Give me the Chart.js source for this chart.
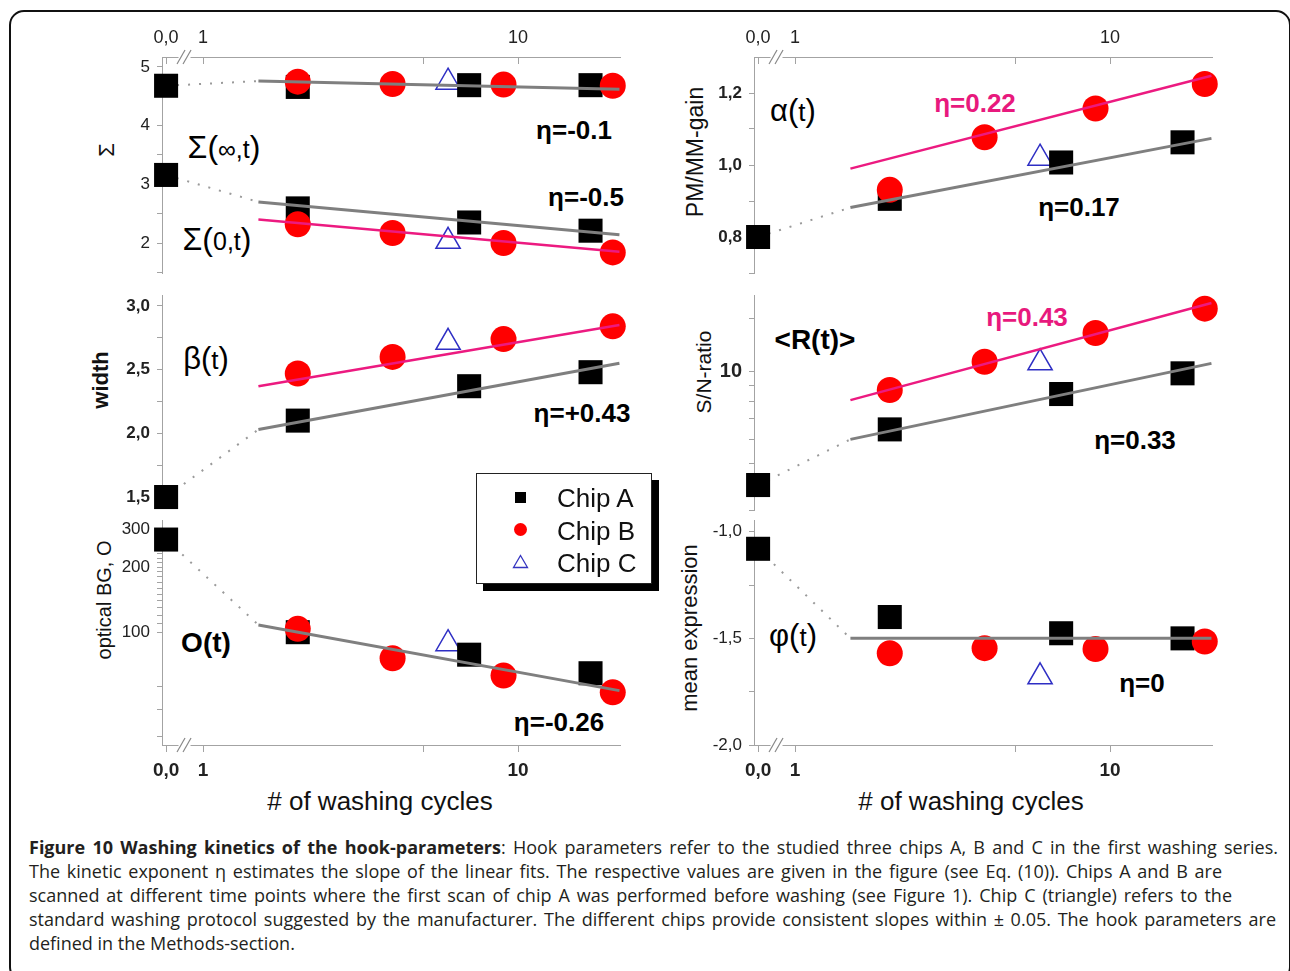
<!DOCTYPE html>
<html><head><meta charset="utf-8">
<script src="https://cdn.jsdelivr.net/npm/chart.js@4.4.1/dist/chart.umd.min.js"></script>
<style>
html,body{margin:0;padding:0;background:#fff;}
body{width:1290px;height:971px;overflow:hidden;position:relative;font-family:'Liberation Sans',Arial,sans-serif;}
.frame{position:absolute;left:9px;top:10px;width:1278px;height:968px;border:2px solid #111;border-radius:15px;}
canvas.p{position:absolute;}
.lab{position:absolute;transform:translate(-50%,-50%);white-space:nowrap;color:#000;line-height:1;}
.yt{position:absolute;transform:translate(-50%,-50%) rotate(-90deg);white-space:nowrap;color:#111;line-height:1;}
.xt{position:absolute;transform:translate(-50%,-50%);white-space:nowrap;color:#111;font-size:26px;line-height:1;}
#legend{position:absolute;left:476px;top:473px;width:174px;height:109px;border:1px solid #222;background:#fff;box-shadow:7px 7px 0 #000;}
#legend .it{position:absolute;left:80px;font-size:26px;color:#111;line-height:1;transform:translateY(-50%);}
.cap{position:absolute;left:29px;font-family:'Open Sans','Noto Sans',sans-serif;font-size:18px;color:#231f20;line-height:24px;}
.cap span{white-space:nowrap;}
</style></head>
<body>
<div class="frame"></div>

<!-- y-axis titles -->
<div class="yt" style="left:107px;top:150px;font-size:22px;">Σ</div>
<div class="yt" style="left:101px;top:380px;font-size:22px;font-weight:bold;">width</div>
<div class="yt" style="left:104px;top:600px;font-size:20px;">optical BG, O</div>
<div class="yt" style="left:695px;top:152px;font-size:23px;">PM/MM-gain</div>
<div class="yt" style="left:703px;top:372px;font-size:21px;">S/N-ratio</div>
<div class="yt" style="left:690px;top:628px;font-size:22px;">mean expression</div>
<!-- x-axis titles -->
<div class="xt" style="left:380px;top:801px;"># of washing cycles</div>
<div class="xt" style="left:971px;top:801px;"># of washing cycles</div>

<!-- in-plot annotations -->
<div class="lab" style="left:224px;top:147px;font-size:25px;"><span style="font-size:32px">Σ(</span>∞,t<span style="font-size:32px">)</span></div>
<div class="lab" style="left:217px;top:239px;font-size:25px;"><span style="font-size:32px">Σ(</span>0,t<span style="font-size:32px">)</span></div>
<div class="lab" style="left:206px;top:358px;font-size:26px;"><span style="font-size:31px">β(</span>t<span style="font-size:31px">)</span></div>
<div class="lab" style="left:206px;top:643px;font-size:28px;font-weight:bold;">O(t)</div>
<div class="lab" style="left:793px;top:110px;font-size:26px;"><span style="font-size:31px">α(</span>t<span style="font-size:31px">)</span></div>
<div class="lab" style="left:815px;top:340px;font-size:28px;font-weight:bold;">&lt;R(t)&gt;</div>
<div class="lab" style="left:793px;top:635px;font-size:26px;"><span style="font-size:31px">φ(</span>t<span style="font-size:31px">)</span></div>
<div class="lab" style="left:574px;top:130px;font-size:26px;font-weight:bold;">η=-0.1</div>
<div class="lab" style="left:586px;top:197px;font-size:26px;font-weight:bold;">η=-0.5</div>
<div class="lab" style="left:582px;top:413px;font-size:26px;font-weight:bold;">η=+0.43</div>
<div class="lab" style="left:559px;top:722px;font-size:26px;font-weight:bold;">η=-0.26</div>
<div class="lab" style="left:975px;top:103px;font-size:26px;font-weight:bold;color:#e8197d;">η=0.22</div>
<div class="lab" style="left:1079px;top:207px;font-size:26px;font-weight:bold;">η=0.17</div>
<div class="lab" style="left:1027px;top:317px;font-size:26px;font-weight:bold;color:#e8197d;">η=0.43</div>
<div class="lab" style="left:1135px;top:440px;font-size:26px;font-weight:bold;">η=0.33</div>
<div class="lab" style="left:1142px;top:683px;font-size:26px;font-weight:bold;">η=0</div>

<div id="legend">
  <div style="position:absolute;left:38px;top:18px;width:11px;height:11px;background:#000;"></div>
  <div style="position:absolute;left:37px;top:49px;width:13px;height:13px;border-radius:50%;background:#f00;"></div>
  <svg style="position:absolute;left:35px;top:80px;" width="17" height="15"><polygon points="8.5,1.5 15.5,13.5 1.5,13.5" fill="none" stroke="#3535c0" stroke-width="1.3"/></svg>
  <div class="it" style="top:24px;">Chip A</div>
  <div class="it" style="top:57px;">Chip B</div>
  <div class="it" style="top:89px;">Chip C</div>
</div>

<div class="cap" style="top:835px;"><span class="ln" data-w="1249"><b>Figure 10 Washing kinetics of the hook-parameters</b>: Hook parameters refer to the studied three chips A, B and C in the first washing series.</span></div>
<div class="cap" style="top:859px;"><span class="ln" data-w="1193">The kinetic exponent η estimates the slope of the linear fits. The respective values are given in the figure (see Eq. (10)). Chips A and B are</span></div>
<div class="cap" style="top:883px;"><span class="ln" data-w="1203">scanned at different time points where the first scan of chip A was performed before washing (see Figure 1). Chip C (triangle) refers to the</span></div>
<div class="cap" style="top:907px;"><span class="ln" data-w="1247">standard washing protocol suggested by the manufacturer. The different chips provide consistent slopes within ± 0.05. The hook parameters are</span></div>
<div class="cap" style="top:931px;"><span class="ln" data-w="271">defined in the Methods-section.</span></div>

<script>
// ---------- data: washing cycles ----------
const chipA_x = [0, 2, 7, 17];   // 0 = scan before washing
const chipB_x = [2, 4, 9, 20];
const chipC_x = [6];
const fitX = [1.5, 21];          // range of the linear fits

// x tick labels (broken log axis)
const xTickVals = [0, 1, 5, 10];
const xTickLabels = ['0,0', '1', '', '10'];

// Σ(∞,t)
const sigInf_A = [4.68, 4.66, 4.69, 4.69];
const sigInf_B = [4.75, 4.71, 4.70, 4.68];
const sigInf_C = [4.74];
const sigInf_fitA = [4.76, 4.62];
// Σ(0,t)
const sig0_A = [3.16, 2.59, 2.35, 2.21];
const sig0_B = [2.32, 2.17, 2.00, 1.84];
const sig0_C = [2.03];
const sig0_fitA = [2.70, 2.14];
const sig0_fitB = [2.40, 1.85];
const sig_ticks = [1.5, 2, 2.5, 3, 3.5, 4, 4.5, 5];
const sig_labels = ['', '2', '', '3', '', '4', '', '5'];

// β(t) width
const beta_A = [1.50, 2.10, 2.37, 2.48];
const beta_B = [2.47, 2.60, 2.74, 2.84];
const beta_C = [2.715];
const beta_fitA = [2.03, 2.55];
const beta_fitB = [2.37, 2.85];
const beta_ticks = [1.5, 1.75, 2.0, 2.25, 2.5, 2.75, 3.0];
const beta_labels = ['1,5', '', '2,0', '', '2,5', '', '3,0'];

// O(t) optical background (log)
const O_A = [268, 100, 78.7, 64.6];
const O_B = [103.6, 75.8, 63, 52.7];
const O_C = [88.5];
const O_fitA = [108, 53.7];
const O_ticks = [33, 44, 56, 100, 110, 120, 130, 140, 150, 160, 170, 180, 190, 200, 210, 220, 230, 240, 250, 260, 270, 280, 290, 300];
const O_labels = ['', '', '', '100', '', '', '', '', '', '', '', '', '', '200', '', '', '', '', '', '', '', '', '', '300'];

// α(t) PM/MM gain
const alpha_A = [0.80, 0.906, 1.007, 1.063];
const alpha_B = [0.931, 1.077, 1.157, 1.225];
const alpha_C = [1.019];
const alpha_fitA = [0.882, 1.074];
const alpha_fitB = [0.99, 1.248];
const alpha_ticks = [0.7, 0.8, 0.9, 1.0, 1.1, 1.2];
const alpha_labels = ['', '0,8', '', '1,0', '', '1,2'];

// <R(t)> S/N ratio (log)
const R_A = [4.25, 6.47, 8.45, 9.88];
const R_B = [8.71, 10.78, 13.4, 16.1];
const R_C = [10.7];
const R_fitA = [6.0, 10.65];
const R_fitB = [8.07, 16.8];
const R_ticks = [3.52, 5, 6, 7, 8, 9, 10, 15];
const R_labels = ['', '', '', '', '', '', '10', ''];

// φ(t) mean expression
const phi_A = [-1.08, -1.40, -1.476, -1.50];
const phi_B = [-1.57, -1.546, -1.55, -1.515];
const phi_C = [-1.68];
const phi_fitA = [-1.5, -1.5];
const phi_ticks = [-2.0, -1.75, -1.5, -1.25, -1.0];
const phi_labels = ['-2,0', '', '-1,5', '', '-1,0'];

// ---------- styling / scale helpers ----------
const X_BREAK = -0.117, X_MIN = -0.13, X_MAX = 1.324;
function tx(v) { return v === 0 ? X_BREAK : Math.log10(v); }
const GRAY = '#7f7f7f', PINK = '#ec1a80', RED = '#ff0000', BLUE = '#2e2ec4', AXIS = '#a3a3a3';

Chart.defaults.font.family = "'Liberation Sans', Arial, sans-serif";
Chart.defaults.color = '#222';
Chart.defaults.animation = false;

function pts(xs, ys) { return xs.map((x, i) => ({ x: tx(x), y: ys[i] })); }

function groupDatasets(g) {
  const out = [];
  out.push({ data: pts(fitX, g.fitA), showLine: true, borderColor: GRAY, borderWidth: 3, pointRadius: 0, pointHoverRadius: 0, order: 0, clip: false });
  if (g.fitB) out.push({ data: pts(fitX, g.fitB), showLine: true, borderColor: PINK, borderWidth: 2.5, pointRadius: 0, pointHoverRadius: 0, order: 0, clip: false });
  out.push({ data: [{ x: tx(chipA_x[0]), y: g.A[0] }, { x: tx(fitX[0]), y: g.fitA[0] }], showLine: true, borderColor: '#9a9a9a', borderWidth: 2, borderDash: [2, 9], pointRadius: 0, pointHoverRadius: 0, order: 4, clip: false });
  out.push({ data: pts(chipB_x, g.B), pointStyle: 'circle', pointRadius: 13, pointHoverRadius: 13, pointBackgroundColor: RED, pointBorderWidth: 0, order: 1, clip: false });
  out.push({ data: pts(chipA_x, g.A), pointStyle: 'rect', pointRadius: 17, pointHoverRadius: 17, pointBackgroundColor: '#000', pointBorderWidth: 0, order: 2, clip: false });
  out.push({ data: pts(chipC_x, g.C), pointStyle: 'triangle', pointRadius: 14, pointHoverRadius: 14, pointBackgroundColor: 'rgba(255,255,255,0)', pointBorderColor: BLUE, pointBorderWidth: 1.5, order: 3, clip: false });
  return out;
}

// draws the x tick marks (pointing down) and the axis break "//"
const xDeco = {
  id: 'xDeco',
  afterDraw(chart) {
    const s = chart.scales.x;
    if (!s.options.display) return;
    const ctx = chart.ctx;
    const yA = s.options.position === 'top' ? s.bottom : s.top;
    ctx.save();
    ctx.strokeStyle = AXIS; ctx.lineWidth = 1;
    s.ticks.forEach(t => {
      const px = Math.round(s.getPixelForValue(t.value)) + 0.5;
      ctx.beginPath(); ctx.moveTo(px, yA); ctx.lineTo(px, yA + 7); ctx.stroke();
    });
    const bx = (s.getPixelForValue(tx(0)) + s.getPixelForValue(tx(1))) / 2;
    ctx.fillStyle = '#fff';
    ctx.fillRect(bx - 6, yA - 2, 12, 4);
    ctx.strokeStyle = '#888'; ctx.lineWidth = 1.2;
    [-3.5, 2.5].forEach(dx => {
      ctx.beginPath(); ctx.moveTo(bx + dx - 4, yA + 7); ctx.lineTo(bx + dx + 4, yA - 7); ctx.stroke();
    });
    ctx.restore();
  }
};

const cols = [{ left: 60, width: 600, yW: 102, padR: 40 }, { left: 652, width: 600, yW: 102, padR: 40 }];
const rows = [
  { top: 15, h: 280, padT: 0, padB: [22, 22], x: 'top', xH: 42 },
  { top: 270, h: 260, padT: 25, padB: [22, 20], x: 'none', xH: 0 },
  { top: 500, h: 315, padT: 20, padB: [0, 0], x: 'bottom', xH: 70 }
];

const panels = [
  { c: 0, r: 0, type: 'linear', min: 1.489, max: 5.17, ticks: sig_ticks, labels: sig_labels, font: { size: 17 },
    groups: [{ A: sigInf_A, B: sigInf_B, C: sigInf_C, fitA: sigInf_fitA }, { A: sig0_A, B: sig0_B, C: sig0_C, fitA: sig0_fitA, fitB: sig0_fitB }] },
  { c: 0, r: 1, type: 'linear', min: 1.414, max: 3.086, ticks: beta_ticks, labels: beta_labels, font: { size: 17, weight: 'bold' },
    groups: [{ A: beta_A, B: beta_B, C: beta_C, fitA: beta_fitA, fitB: beta_fitB }] },
  { c: 0, r: 2, type: 'logarithmic', min: 30.1, max: 330, ticks: O_ticks, labels: O_labels, font: { size: 17 },
    groups: [{ A: O_A, B: O_B, C: O_C, fitA: O_fitA }] },
  { c: 1, r: 0, type: 'linear', min: 0.70, max: 1.30, ticks: alpha_ticks, labels: alpha_labels, font: { size: 17, weight: 'bold' },
    groups: [{ A: alpha_A, B: alpha_B, C: alpha_C, fitA: alpha_fitA, fitB: alpha_fitB }] },
  { c: 1, r: 1, type: 'logarithmic', min: 3.52, max: 17.85, ticks: R_ticks, labels: R_labels, font: { size: 20, weight: 'bold' },
    groups: [{ A: R_A, B: R_B, C: R_C, fitA: R_fitA, fitB: R_fitB }] },
  { c: 1, r: 2, type: 'linear', min: -2.0, max: -0.945, ticks: phi_ticks, labels: phi_labels, font: { size: 17 },
    groups: [{ A: phi_A, B: phi_B, C: phi_C, fitA: phi_fitA }] }
];

panels.forEach(p => {
  const col = cols[p.c], row = rows[p.r];
  const cv = document.createElement('canvas');
  cv.className = 'p'; cv.width = col.width; cv.height = row.h;
  cv.style.left = col.left + 'px'; cv.style.top = row.top + 'px';
  cv.style.width = col.width + 'px'; cv.style.height = row.h + 'px';
  document.body.insertBefore(cv, document.getElementById('legend'));
  const datasets = [];
  p.groups.forEach(g => datasets.push(...groupDatasets(g)));
  const xpos = row.x;
  const xScale = {
    type: 'linear', display: xpos !== 'none', position: xpos === 'bottom' ? 'bottom' : 'top',
    min: X_MIN, max: X_MAX,
    afterBuildTicks(s) { s.ticks = xTickVals.map(v => ({ value: tx(v) })); },
    ticks: { autoSkip: false, maxRotation: 0, padding: xpos === 'top' ? 8 : 14, color: '#222',
             font: xpos === 'top' ? { size: 18 } : { size: 19, weight: 'bold' },
             callback: (v, i) => xTickLabels[i] },
    grid: { drawOnChartArea: false, drawTicks: false },
    border: { display: true, color: AXIS, width: 1 }
  };
  if (xpos !== 'none') xScale.afterFit = s => { s.height = row.xH; };
  new Chart(cv, {
    type: 'scatter',
    data: { datasets },
    options: {
      responsive: false, animation: false, events: [],
      layout: { padding: { top: row.padT, bottom: row.padB[p.c], left: 0, right: col.padR } },
      plugins: { legend: { display: false }, tooltip: { enabled: false } },
      scales: {
        x: xScale,
        y: {
          type: p.type, position: 'left', min: p.min, max: p.max,
          afterFit(s) { s.width = col.yW; },
          afterBuildTicks(s) { s.ticks = p.ticks.map(v => ({ value: v })); },
          ticks: { autoSkip: false, padding: 7, color: '#222', font: p.font, callback: (v, i) => p.labels[i] },
          grid: { drawOnChartArea: false, drawTicks: true, tickLength: 5, color: AXIS },
          border: { display: true, color: AXIS, width: 1 }
        }
      }
    },
    plugins: [xDeco]
  });
});

// fit caption lines to the reference line widths
document.querySelectorAll('.cap span.ln').forEach(sp => {
  const target = +sp.dataset.w;
  const w = sp.getBoundingClientRect().width;
  const spaces = (sp.textContent.match(/ /g) || []).length;
  if (spaces && target > 300) sp.style.wordSpacing = ((target - w) / spaces) + 'px';
});
</script>
</body></html>
